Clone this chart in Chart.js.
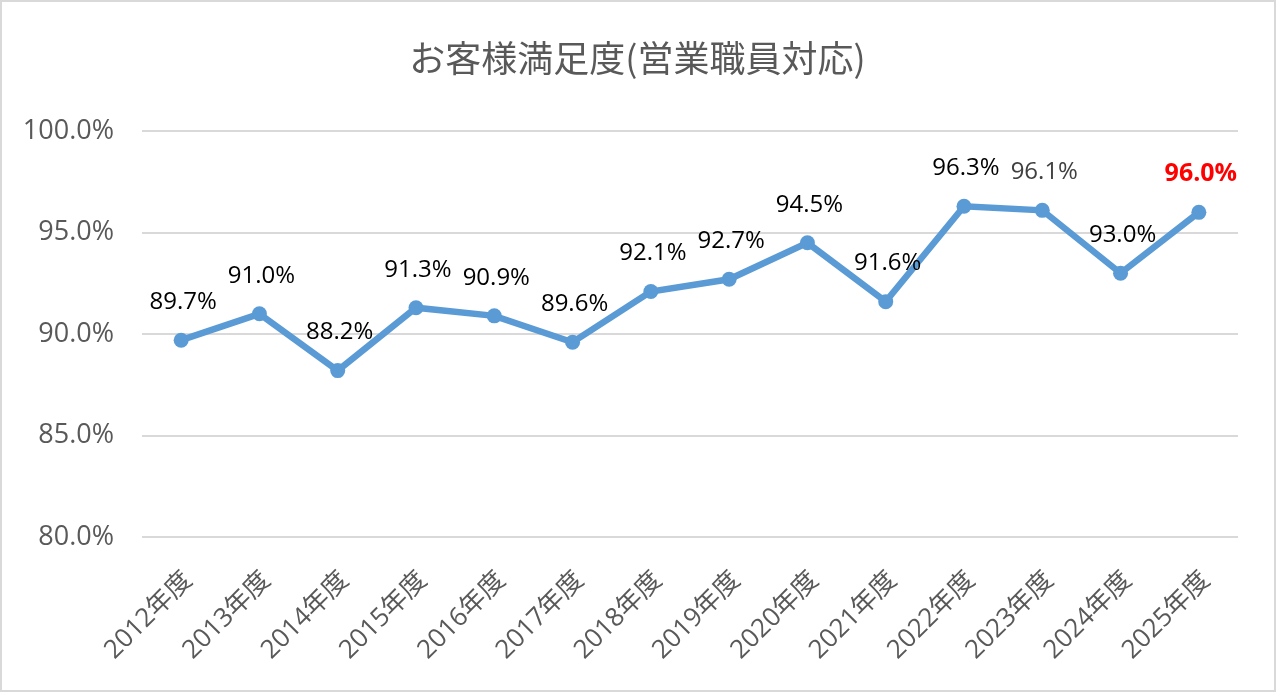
<!DOCTYPE html>
<html lang="ja">
<head>
<meta charset="utf-8">
<title>お客様満足度(営業職員対応)</title>
<script src="https://cdn.jsdelivr.net/npm/chart.js@4/dist/chart.umd.min.js"></script>
<style>
  html, body { margin: 0; padding: 0; background: #fff; }
  #wrap { position: relative; width: 1280px; height: 696px; }
  #frame {
    position: absolute; left: 0; top: 0; width: 1272px; height: 688px;
    border: 2px solid #d9d9d9; pointer-events: none;
  }
</style>
</head>
<body>
<div id="wrap">
  <canvas id="satisfactionChart" width="1280" height="696"></canvas>
  <div id="frame"></div>
</div>
<script>
// Chart data
const years = ['2012年度', '2013年度', '2014年度', '2015年度', '2016年度', '2017年度', '2018年度',
               '2019年度', '2020年度', '2021年度', '2022年度', '2023年度', '2024年度', '2025年度'];
const satisfaction = [89.7, 91.0, 88.2, 91.3, 90.9, 89.6, 92.1, 92.7, 94.5, 91.6, 96.3, 96.1, 93.0, 96.0];
const yTicks = [80, 85, 90, 95, 100];

const latinFont = "'Open Sans', 'Noto Sans CJK JP', sans-serif";

// Draws the value above each point (last year highlighted in red)
const valueLabels = {
  id: 'valueLabels',
  afterDatasetsDraw(chart) {
    const ctx = chart.ctx;
    const meta = chart.getDatasetMeta(0);
    ctx.save();
    ctx.textAlign = 'center';
    ctx.textBaseline = 'middle';
    meta.data.forEach((pt, i) => {
      const last = i === satisfaction.length - 1;
      ctx.font = last ? 'bold 25px ' + latinFont : '24px ' + latinFont;
      ctx.fillStyle = last ? '#ff0000' : (i === 11 ? '#404040' : '#000000');
      ctx.fillText(satisfaction[i].toFixed(1) + '%', pt.x + 2, pt.y - 38);
    });
    ctx.restore();
  }
};

document.addEventListener('DOMContentLoaded', function () {
  const ctx = document.getElementById('satisfactionChart').getContext('2d');
  window.satisfactionChart = new Chart(ctx, {
    type: 'line',
    data: {
      labels: years,
      datasets: [{
        data: satisfaction,
        borderColor: '#5b9bd5',
        backgroundColor: '#5b9bd5',
        borderWidth: 6.5,
        pointRadius: 7.5,
        pointBorderWidth: 0,
        pointBackgroundColor: '#5b9bd5',
        tension: 0
      }]
    },
    options: {
      responsive: false,
      animation: false,
      layout: { padding: { left: 0, right: 5, top: 0, bottom: 0 } },
      plugins: {
        legend: { display: false },
        tooltip: { enabled: false },
        title: {
          display: true,
          text: 'お客様満足度(営業職員対応)',
          color: '#595959',
          font: { family: "'Noto Sans CJK JP', sans-serif", size: 36, weight: 'normal' },
          padding: { top: 37, bottom: 51 }
        }
      },
      scales: {
        x: {
          offset: true,
          grid: { display: false },
          border: { display: false },
          ticks: {
            color: '#595959',
            font: { family: latinFont, size: 26 },
            minRotation: 45,
            maxRotation: 45,
            padding: 20,
            labelOffset: 7
          },
          afterFit(scale) { scale.height = 159; }
        },
        y: {
          min: yTicks[0],
          max: yTicks[yTicks.length - 1],
          grid: { color: '#d9d9d9', lineWidth: 2, drawTicks: false },
          border: { display: false },
          ticks: {
            stepSize: 5,
            padding: 28,
            color: '#595959',
            font: { family: latinFont, size: 27 },
            callback: v => v.toFixed(1) + '%'
          },
          afterFit(scale) { scale.width = 142; }
        },
        // empty right-hand axis: keeps the right margin of the plot
        // while the title stays centred on the whole picture
        yRight: {
          position: 'right',
          display: true,
          grid: { display: false },
          border: { display: false },
          ticks: { display: false },
          afterFit(scale) { scale.width = 37; }
        }
      }
    },
    plugins: [valueLabels]
  });
});
</script>
</body>
</html>
